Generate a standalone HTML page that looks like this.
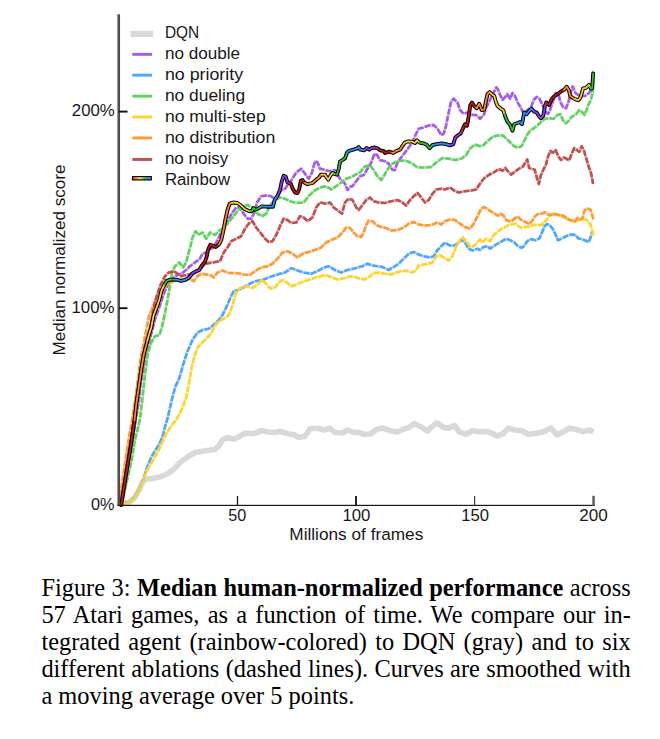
<!DOCTYPE html>
<html><head><meta charset="utf-8"><title>Figure 3</title>
<style>
html,body{margin:0;padding:0;background:#fff;}
body{width:660px;height:739px;position:relative;overflow:hidden;font-family:"Liberation Serif",serif;}
.cap{position:absolute;left:41.4px;top:574px;width:589.4px;font-family:"Liberation Serif",serif;font-size:24.4px;line-height:27px;color:#000;}
.cap .ln{text-align:justify;text-align-last:justify;white-space:nowrap;height:27px;}
.cap .ln.last{text-align:left;text-align-last:left;}
</style></head><body>
<svg width="660" height="560" viewBox="0 0 660 560" style="position:absolute;left:0;top:0">
<defs><linearGradient id="rb" gradientUnits="userSpaceOnUse" x1="132" y1="0" x2="153" y2="0">
<stop offset="0" stop-color="#e02020"/><stop offset="0.2" stop-color="#ff8c1a"/><stop offset="0.4" stop-color="#ffd42a"/><stop offset="0.6" stop-color="#30c030"/><stop offset="0.8" stop-color="#3090ff"/><stop offset="1" stop-color="#9040e0"/></linearGradient><filter id="bl" x="-2%" y="-2%" width="104%" height="104%"><feGaussianBlur stdDeviation="0.4"/></filter></defs>
<g filter="url(#bl)">
<path d="M121.8,503.8 L129.3,502.2 L134.5,498.0 L139.0,490.0 L143.0,481.5 L146.5,479.0 L152.5,478.5 L160.0,477.0 L167.5,473.7 L172.5,470.0 L175.0,468.0 L180.0,462.5 L187.5,457.0 L195.0,452.5 L205.0,450.7 L215.0,449.5 L218.7,446.2 L222.5,440.0 L227.5,437.5 L233.7,439.2 L240.0,436.2 L245.0,433.2 L252.5,433.7 L257.5,432.5 L261.2,430.5 L267.5,432.0 L275.0,432.5 L280.0,431.2 L287.5,433.7 L293.7,434.5 L298.7,437.5 L305.0,436.2 L310.0,428.7 L317.5,428.2 L323.7,430.0 L330.0,428.2 L335.0,432.5 L342.5,433.0 L347.5,430.0 L353.7,432.5 L358.7,432.5 L365.0,434.5 L371.2,433.7 L376.2,429.5 L382.5,428.0 L390.0,430.7 L397.5,432.0 L402.5,429.5 L408.7,427.5 L414.5,423.7 L421.2,427.0 L427.5,431.2 L430.3,428.1 L436.9,422.8 L443.6,427.4 L448.9,428.1 L454.7,425.5 L459.5,432.1 L466.1,434.2 L472.2,430.8 L479.4,431.6 L487.3,431.6 L492.6,433.5 L497.1,436.1 L503.2,433.5 L508.5,428.1 L515.2,430.0 L521.8,430.8 L528.4,434.2 L535.0,433.5 L543.0,432.1 L551.0,428.1 L557.0,434.8 L562.9,432.1 L569.5,428.1 L576.2,429.5 L582.8,431.6 L589.4,430.0 L593.4,432.1" fill="none" stroke="#d9d9d9" stroke-width="5.6" stroke-linejoin="round" stroke-linecap="butt"/>
<path d="M121.8,504.5 L132.5,440.0 L139.0,400.0 L140.5,385.0 L143.0,370.0 L146.0,355.0 L149.0,342.0 L152.0,331.0 L155.0,319.0 L159.0,308.0 L163.0,296.0 L166.0,288.0 L170.0,281.0 L175.0,276.2 L181.2,273.7 L186.2,270.0 L190.0,266.2 L195.0,262.5 L200.0,258.7 L202.5,253.7 L206.2,252.5 L210.0,249.0 L213.7,247.5 L217.5,240.0 L221.2,232.5 L225.0,226.2 L228.7,218.7 L232.5,212.5 L236.2,207.5 L240.0,207.5 L243.7,213.7 L247.5,218.7 L251.2,218.7 L254.5,212.5 L257.0,202.5 L261.2,196.2 L266.2,195.5 L271.2,196.2 L275.0,199.5 L278.0,196.2 L281.2,190.0 L285.0,188.7 L288.7,183.7 L292.5,178.7 L296.2,172.5 L301.2,168.7 L305.0,173.7 L308.7,178.7 L312.0,172.5 L315.0,161.2 L317.5,162.5 L320.0,168.7 L325.0,170.0 L330.0,171.2 L335.0,170.0 L340.0,178.7 L345.0,183.7 L347.5,190.0 L351.2,186.2 L352.5,186.2 L356.2,181.2 L360.0,176.2 L363.7,175.0 L367.5,168.7 L371.2,162.5 L374.5,153.7 L377.0,155.0 L380.0,160.0 L385.0,161.2 L388.7,163.7 L392.5,170.0 L395.0,170.0 L397.5,162.5 L401.2,157.5 L405.0,152.5 L408.7,147.5 L412.5,142.5 L415.5,135.0 L418.7,128.7 L423.7,127.5 L428.7,125.5 L433.7,125.0 L437.5,128.7 L441.2,135.0 L443.7,133.7 L446.2,125.0 L448.7,112.5 L451.2,101.2 L453.7,98.7 L457.5,102.5 L460.0,110.0 L463.7,113.7 L468.7,112.5 L472.5,115.0 L476.2,115.0 L480.0,118.7 L483.7,115.0 L486.2,107.5 L490.0,100.0 L493.0,93.7 L496.2,87.5 L498.0,89.5 L499.7,94.1 L502.6,99.8 L505.4,96.9 L507.3,94.1 L510.2,98.8 L512.4,93.1 L514.9,96.0 L517.7,102.6 L520.6,107.3 L523.4,113.0 L527.2,110.2 L531.0,107.3 L533.8,99.8 L536.7,96.9 L539.5,98.8 L542.3,104.5 L545.2,111.1 L548.0,114.0 L549.9,110.2 L552.8,101.7 L555.6,93.1 L558.4,94.1 L560.3,101.7 L563.2,107.3 L566.0,108.3 L568.9,100.7 L570.8,92.2 L572.7,86.5 L575.5,93.1 L578.3,95.0 L581.2,96.0 L585.0,96.0 L587.8,94.1 L590.6,91.2 L592.5,86.5" fill="none" stroke="#a55bea" stroke-opacity="0.42" stroke-width="2.4" stroke-linejoin="round"/>
<path d="M121.8,504.5 L132.5,440.0 L139.0,400.0 L140.5,385.0 L143.0,370.0 L146.0,355.0 L149.0,342.0 L152.0,331.0 L155.0,319.0 L159.0,308.0 L163.0,296.0 L166.0,288.0 L170.0,281.0 L175.0,276.2 L181.2,273.7 L186.2,270.0 L190.0,266.2 L195.0,262.5 L200.0,258.7 L202.5,253.7 L206.2,252.5 L210.0,249.0 L213.7,247.5 L217.5,240.0 L221.2,232.5 L225.0,226.2 L228.7,218.7 L232.5,212.5 L236.2,207.5 L240.0,207.5 L243.7,213.7 L247.5,218.7 L251.2,218.7 L254.5,212.5 L257.0,202.5 L261.2,196.2 L266.2,195.5 L271.2,196.2 L275.0,199.5 L278.0,196.2 L281.2,190.0 L285.0,188.7 L288.7,183.7 L292.5,178.7 L296.2,172.5 L301.2,168.7 L305.0,173.7 L308.7,178.7 L312.0,172.5 L315.0,161.2 L317.5,162.5 L320.0,168.7 L325.0,170.0 L330.0,171.2 L335.0,170.0 L340.0,178.7 L345.0,183.7 L347.5,190.0 L351.2,186.2 L352.5,186.2 L356.2,181.2 L360.0,176.2 L363.7,175.0 L367.5,168.7 L371.2,162.5 L374.5,153.7 L377.0,155.0 L380.0,160.0 L385.0,161.2 L388.7,163.7 L392.5,170.0 L395.0,170.0 L397.5,162.5 L401.2,157.5 L405.0,152.5 L408.7,147.5 L412.5,142.5 L415.5,135.0 L418.7,128.7 L423.7,127.5 L428.7,125.5 L433.7,125.0 L437.5,128.7 L441.2,135.0 L443.7,133.7 L446.2,125.0 L448.7,112.5 L451.2,101.2 L453.7,98.7 L457.5,102.5 L460.0,110.0 L463.7,113.7 L468.7,112.5 L472.5,115.0 L476.2,115.0 L480.0,118.7 L483.7,115.0 L486.2,107.5 L490.0,100.0 L493.0,93.7 L496.2,87.5 L498.0,89.5 L499.7,94.1 L502.6,99.8 L505.4,96.9 L507.3,94.1 L510.2,98.8 L512.4,93.1 L514.9,96.0 L517.7,102.6 L520.6,107.3 L523.4,113.0 L527.2,110.2 L531.0,107.3 L533.8,99.8 L536.7,96.9 L539.5,98.8 L542.3,104.5 L545.2,111.1 L548.0,114.0 L549.9,110.2 L552.8,101.7 L555.6,93.1 L558.4,94.1 L560.3,101.7 L563.2,107.3 L566.0,108.3 L568.9,100.7 L570.8,92.2 L572.7,86.5 L575.5,93.1 L578.3,95.0 L581.2,96.0 L585.0,96.0 L587.8,94.1 L590.6,91.2 L592.5,86.5" fill="none" stroke="#a55bea" stroke-width="2.65" stroke-dasharray="6 1.4" stroke-linejoin="round"/>
<path d="M121.8,503.6 L129.3,502.0 L134.5,497.5 L139.0,489.3 L143.5,478.9 L147.2,467.0 L150.9,458.0 L154.6,451.3 L159.1,444.6 L162.8,435.7 L165.8,423.8 L167.5,418.7 L171.2,402.5 L175.0,387.5 L179.5,377.5 L183.0,365.0 L187.5,351.2 L192.5,340.0 L197.5,332.5 L202.5,330.0 L208.7,328.7 L213.7,325.0 L218.7,320.0 L222.5,315.0 L226.2,307.5 L230.0,298.7 L233.7,291.2 L240.0,289.5 L247.5,285.0 L255.0,281.2 L262.5,280.0 L270.0,277.0 L277.5,274.5 L285.0,272.5 L291.2,268.2 L297.5,270.5 L303.7,272.5 L311.2,273.7 L317.5,271.2 L323.7,267.5 L328.7,266.2 L335.0,270.0 L341.2,272.5 L347.5,270.0 L350.0,269.5 L356.2,268.0 L362.5,266.2 L367.5,263.7 L372.5,265.5 L377.5,266.2 L382.5,267.0 L388.7,270.0 L393.7,267.0 L398.7,263.7 L403.7,258.7 L408.7,253.7 L413.7,252.0 L418.7,254.5 L423.7,256.2 L430.0,257.5 L433.7,256.2 L437.5,250.0 L441.2,246.2 L445.0,242.5 L448.7,245.0 L452.5,246.2 L457.5,243.7 L461.2,240.0 L465.0,242.5 L468.7,248.7 L472.5,250.5 L477.5,248.7 L480.0,250.0 L483.7,247.0 L487.5,246.2 L490.0,248.7 L493.7,246.2 L498.8,243.0 L502.6,240.8 L506.4,238.9 L510.2,240.2 L513.9,242.1 L517.7,245.9 L521.5,247.8 L524.4,245.9 L527.2,241.1 L531.0,239.2 L535.7,240.2 L539.5,238.3 L542.3,231.7 L544.6,226.0 L547.1,224.1 L549.9,225.6 L552.8,228.8 L555.6,234.5 L557.9,240.2 L560.3,239.2 L564.1,237.3 L567.9,235.5 L571.7,234.5 L575.5,235.1 L578.3,238.3 L582.1,239.2 L585.9,240.8 L588.8,242.1 L590.6,237.3 L592.5,230.7" fill="none" stroke="#4da6ff" stroke-opacity="0.42" stroke-width="2.4" stroke-linejoin="round"/>
<path d="M121.8,503.6 L129.3,502.0 L134.5,497.5 L139.0,489.3 L143.5,478.9 L147.2,467.0 L150.9,458.0 L154.6,451.3 L159.1,444.6 L162.8,435.7 L165.8,423.8 L167.5,418.7 L171.2,402.5 L175.0,387.5 L179.5,377.5 L183.0,365.0 L187.5,351.2 L192.5,340.0 L197.5,332.5 L202.5,330.0 L208.7,328.7 L213.7,325.0 L218.7,320.0 L222.5,315.0 L226.2,307.5 L230.0,298.7 L233.7,291.2 L240.0,289.5 L247.5,285.0 L255.0,281.2 L262.5,280.0 L270.0,277.0 L277.5,274.5 L285.0,272.5 L291.2,268.2 L297.5,270.5 L303.7,272.5 L311.2,273.7 L317.5,271.2 L323.7,267.5 L328.7,266.2 L335.0,270.0 L341.2,272.5 L347.5,270.0 L350.0,269.5 L356.2,268.0 L362.5,266.2 L367.5,263.7 L372.5,265.5 L377.5,266.2 L382.5,267.0 L388.7,270.0 L393.7,267.0 L398.7,263.7 L403.7,258.7 L408.7,253.7 L413.7,252.0 L418.7,254.5 L423.7,256.2 L430.0,257.5 L433.7,256.2 L437.5,250.0 L441.2,246.2 L445.0,242.5 L448.7,245.0 L452.5,246.2 L457.5,243.7 L461.2,240.0 L465.0,242.5 L468.7,248.7 L472.5,250.5 L477.5,248.7 L480.0,250.0 L483.7,247.0 L487.5,246.2 L490.0,248.7 L493.7,246.2 L498.8,243.0 L502.6,240.8 L506.4,238.9 L510.2,240.2 L513.9,242.1 L517.7,245.9 L521.5,247.8 L524.4,245.9 L527.2,241.1 L531.0,239.2 L535.7,240.2 L539.5,238.3 L542.3,231.7 L544.6,226.0 L547.1,224.1 L549.9,225.6 L552.8,228.8 L555.6,234.5 L557.9,240.2 L560.3,239.2 L564.1,237.3 L567.9,235.5 L571.7,234.5 L575.5,235.1 L578.3,238.3 L582.1,239.2 L585.9,240.8 L588.8,242.1 L590.6,237.3 L592.5,230.7" fill="none" stroke="#4da6ff" stroke-width="2.65" stroke-dasharray="6 1.4" stroke-linejoin="round"/>
<path d="M121.6,504.5 L131.9,459.0 L134.8,440.0 L137.5,429.8 L140.0,418.7 L142.5,397.5 L145.0,375.0 L147.5,355.0 L151.2,342.5 L155.0,336.2 L159.5,335.0 L162.5,325.0 L165.0,312.5 L167.5,300.0 L170.0,285.0 L172.0,272.5 L175.0,266.2 L179.5,262.5 L183.0,267.5 L186.2,262.5 L188.7,252.5 L190.5,246.0 L192.5,237.5 L195.5,231.2 L198.7,235.0 L202.5,232.5 L206.2,238.7 L210.0,232.5 L215.0,235.0 L218.7,231.2 L222.5,228.7 L227.5,223.7 L232.5,217.5 L237.5,211.2 L242.5,206.2 L247.5,205.0 L252.5,207.5 L257.5,213.7 L262.5,216.2 L266.2,213.7 L270.0,205.0 L275.0,200.0 L280.0,197.5 L285.0,198.7 L290.0,201.2 L296.2,203.0 L303.7,202.5 L308.7,196.2 L313.7,191.2 L320.0,187.5 L326.2,186.2 L331.2,189.5 L336.2,186.2 L341.2,182.5 L346.2,178.7 L350.0,177.5 L355.0,175.0 L360.0,172.5 L365.0,166.2 L370.0,165.5 L373.7,170.0 L377.5,176.2 L381.2,180.0 L384.5,175.0 L388.0,168.7 L392.5,163.7 L397.5,161.2 L402.5,160.5 L407.5,161.2 L412.5,163.7 L417.5,167.5 L423.7,167.5 L431.2,167.0 L436.2,162.5 L442.5,158.0 L448.7,158.7 L455.0,160.0 L461.2,158.7 L466.2,155.0 L470.0,148.7 L475.0,144.5 L480.0,146.2 L483.7,145.0 L487.5,141.2 L492.5,137.0 L497.5,135.5 L502.6,135.4 L506.4,138.6 L510.2,142.4 L513.9,146.2 L517.7,147.5 L521.5,146.2 L524.4,140.5 L527.2,134.8 L530.0,131.0 L533.8,128.2 L537.6,125.3 L541.4,121.6 L545.2,118.7 L549.0,118.3 L553.7,118.7 L557.5,114.9 L560.3,114.0 L563.2,120.6 L566.0,123.4 L568.9,120.6 L571.7,116.8 L575.5,114.9 L579.3,110.2 L582.1,112.1 L584.4,114.9 L586.9,109.2 L588.8,103.6 L590.6,100.7 L592.0,95.0 L593.1,90.3" fill="none" stroke="#5fd35f" stroke-opacity="0.42" stroke-width="2.4" stroke-linejoin="round"/>
<path d="M121.6,504.5 L131.9,459.0 L134.8,440.0 L137.5,429.8 L140.0,418.7 L142.5,397.5 L145.0,375.0 L147.5,355.0 L151.2,342.5 L155.0,336.2 L159.5,335.0 L162.5,325.0 L165.0,312.5 L167.5,300.0 L170.0,285.0 L172.0,272.5 L175.0,266.2 L179.5,262.5 L183.0,267.5 L186.2,262.5 L188.7,252.5 L190.5,246.0 L192.5,237.5 L195.5,231.2 L198.7,235.0 L202.5,232.5 L206.2,238.7 L210.0,232.5 L215.0,235.0 L218.7,231.2 L222.5,228.7 L227.5,223.7 L232.5,217.5 L237.5,211.2 L242.5,206.2 L247.5,205.0 L252.5,207.5 L257.5,213.7 L262.5,216.2 L266.2,213.7 L270.0,205.0 L275.0,200.0 L280.0,197.5 L285.0,198.7 L290.0,201.2 L296.2,203.0 L303.7,202.5 L308.7,196.2 L313.7,191.2 L320.0,187.5 L326.2,186.2 L331.2,189.5 L336.2,186.2 L341.2,182.5 L346.2,178.7 L350.0,177.5 L355.0,175.0 L360.0,172.5 L365.0,166.2 L370.0,165.5 L373.7,170.0 L377.5,176.2 L381.2,180.0 L384.5,175.0 L388.0,168.7 L392.5,163.7 L397.5,161.2 L402.5,160.5 L407.5,161.2 L412.5,163.7 L417.5,167.5 L423.7,167.5 L431.2,167.0 L436.2,162.5 L442.5,158.0 L448.7,158.7 L455.0,160.0 L461.2,158.7 L466.2,155.0 L470.0,148.7 L475.0,144.5 L480.0,146.2 L483.7,145.0 L487.5,141.2 L492.5,137.0 L497.5,135.5 L502.6,135.4 L506.4,138.6 L510.2,142.4 L513.9,146.2 L517.7,147.5 L521.5,146.2 L524.4,140.5 L527.2,134.8 L530.0,131.0 L533.8,128.2 L537.6,125.3 L541.4,121.6 L545.2,118.7 L549.0,118.3 L553.7,118.7 L557.5,114.9 L560.3,114.0 L563.2,120.6 L566.0,123.4 L568.9,120.6 L571.7,116.8 L575.5,114.9 L579.3,110.2 L582.1,112.1 L584.4,114.9 L586.9,109.2 L588.8,103.6 L590.6,100.7 L592.0,95.0 L593.1,90.3" fill="none" stroke="#5fd35f" stroke-width="2.65" stroke-dasharray="6 1.4" stroke-linejoin="round"/>
<path d="M121.8,503.8 L129.3,502.2 L134.5,498.0 L139.0,490.0 L143.5,480.0 L147.2,470.0 L151.7,462.5 L156.1,455.0 L161.3,444.6 L165.0,435.7 L169.5,428.3 L175.5,420.8 L179.9,413.4 L182.5,407.5 L186.2,397.5 L188.7,385.0 L191.2,370.0 L194.5,356.2 L197.5,347.5 L202.5,342.5 L207.5,337.5 L211.2,333.7 L213.7,327.5 L218.7,321.2 L223.7,318.7 L228.7,315.0 L232.5,305.0 L236.2,292.5 L240.0,288.0 L246.2,286.2 L252.5,288.0 L257.5,284.5 L262.0,280.0 L266.2,283.7 L270.5,288.7 L275.0,287.5 L278.7,282.5 L282.5,280.0 L286.2,282.0 L291.2,286.2 L296.2,284.5 L302.5,282.0 L310.0,279.5 L317.5,277.0 L325.0,275.0 L331.2,277.0 L337.5,279.5 L345.0,278.0 L350.0,276.2 L355.0,277.0 L360.0,278.7 L365.0,279.5 L370.0,276.2 L373.7,273.0 L378.7,272.5 L385.0,273.7 L391.2,274.5 L396.2,272.5 L401.2,271.2 L406.2,270.7 L411.2,272.5 L415.0,271.2 L418.7,265.5 L423.7,264.5 L428.7,263.7 L432.5,262.5 L436.2,256.2 L440.0,255.0 L443.7,257.5 L448.7,260.5 L452.5,256.2 L456.2,246.2 L460.0,240.0 L463.0,237.5 L466.2,241.2 L470.0,246.2 L473.7,246.2 L477.5,242.5 L480.0,239.5 L482.5,242.5 L486.2,238.7 L490.0,241.2 L493.7,235.0 L497.8,231.7 L500.7,229.4 L504.5,227.5 L508.3,225.0 L512.0,224.1 L515.8,223.7 L518.7,226.4 L521.5,227.9 L525.3,226.9 L529.1,226.9 L532.9,225.0 L536.7,224.7 L541.4,225.0 L544.2,222.2 L547.1,219.4 L549.9,215.6 L553.7,213.1 L556.6,214.6 L560.3,215.6 L564.1,217.5 L567.9,219.4 L571.7,220.7 L575.5,221.2 L579.3,219.9 L583.1,219.4 L585.9,219.4 L588.8,222.2 L590.6,225.0 L592.0,229.8 L593.5,236.4" fill="none" stroke="#ffd42a" stroke-opacity="0.42" stroke-width="2.4" stroke-linejoin="round"/>
<path d="M121.8,503.8 L129.3,502.2 L134.5,498.0 L139.0,490.0 L143.5,480.0 L147.2,470.0 L151.7,462.5 L156.1,455.0 L161.3,444.6 L165.0,435.7 L169.5,428.3 L175.5,420.8 L179.9,413.4 L182.5,407.5 L186.2,397.5 L188.7,385.0 L191.2,370.0 L194.5,356.2 L197.5,347.5 L202.5,342.5 L207.5,337.5 L211.2,333.7 L213.7,327.5 L218.7,321.2 L223.7,318.7 L228.7,315.0 L232.5,305.0 L236.2,292.5 L240.0,288.0 L246.2,286.2 L252.5,288.0 L257.5,284.5 L262.0,280.0 L266.2,283.7 L270.5,288.7 L275.0,287.5 L278.7,282.5 L282.5,280.0 L286.2,282.0 L291.2,286.2 L296.2,284.5 L302.5,282.0 L310.0,279.5 L317.5,277.0 L325.0,275.0 L331.2,277.0 L337.5,279.5 L345.0,278.0 L350.0,276.2 L355.0,277.0 L360.0,278.7 L365.0,279.5 L370.0,276.2 L373.7,273.0 L378.7,272.5 L385.0,273.7 L391.2,274.5 L396.2,272.5 L401.2,271.2 L406.2,270.7 L411.2,272.5 L415.0,271.2 L418.7,265.5 L423.7,264.5 L428.7,263.7 L432.5,262.5 L436.2,256.2 L440.0,255.0 L443.7,257.5 L448.7,260.5 L452.5,256.2 L456.2,246.2 L460.0,240.0 L463.0,237.5 L466.2,241.2 L470.0,246.2 L473.7,246.2 L477.5,242.5 L480.0,239.5 L482.5,242.5 L486.2,238.7 L490.0,241.2 L493.7,235.0 L497.8,231.7 L500.7,229.4 L504.5,227.5 L508.3,225.0 L512.0,224.1 L515.8,223.7 L518.7,226.4 L521.5,227.9 L525.3,226.9 L529.1,226.9 L532.9,225.0 L536.7,224.7 L541.4,225.0 L544.2,222.2 L547.1,219.4 L549.9,215.6 L553.7,213.1 L556.6,214.6 L560.3,215.6 L564.1,217.5 L567.9,219.4 L571.7,220.7 L575.5,221.2 L579.3,219.9 L583.1,219.4 L585.9,219.4 L588.8,222.2 L590.6,225.0 L592.0,229.8 L593.5,236.4" fill="none" stroke="#ffd42a" stroke-width="2.65" stroke-dasharray="6 1.4" stroke-linejoin="round"/>
<path d="M119.8,503.0 L121.5,487.4 L124.3,468.4 L128.6,440.0 L132.3,418.7 L135.3,400.0 L140.5,360.0 L148.7,317.5 L152.0,308.7 L156.0,299.0 L161.0,291.0 L167.5,283.7 L172.5,281.2 L180.0,280.0 L190.0,279.0 L193.7,281.2 L197.5,276.2 L201.2,273.7 L206.2,274.5 L211.2,275.5 L213.7,277.5 L217.5,272.5 L222.5,270.5 L228.7,273.0 L236.2,273.0 L243.7,274.5 L250.0,275.0 L255.0,271.2 L261.2,267.5 L267.5,266.2 L272.5,263.7 L277.5,258.7 L282.5,252.5 L287.5,251.2 L292.5,253.7 L297.5,257.5 L302.5,253.7 L308.7,252.0 L315.0,250.0 L321.2,247.5 L326.2,242.5 L331.2,240.0 L337.5,237.5 L342.5,232.5 L346.2,227.5 L350.0,228.0 L353.7,232.5 L357.5,236.2 L361.2,237.0 L363.7,232.5 L366.2,225.0 L368.7,220.7 L372.5,221.2 L376.2,225.0 L381.2,227.0 L386.2,228.0 L391.2,230.5 L397.5,230.0 L403.7,227.5 L408.7,223.7 L413.7,222.0 L418.7,224.5 L425.0,225.5 L431.2,225.0 L437.5,222.5 L441.2,224.5 L445.0,221.2 L450.0,219.5 L455.0,220.0 L460.0,223.7 L465.0,227.0 L470.0,228.7 L473.7,223.7 L477.5,216.2 L481.2,208.7 L484.5,207.0 L488.7,210.0 L493.7,213.0 L497.8,215.6 L500.7,213.7 L503.5,215.6 L506.4,220.3 L509.2,221.2 L512.0,220.7 L514.9,218.4 L517.7,216.5 L520.6,219.4 L523.4,221.2 L526.2,222.2 L529.1,224.1 L531.9,221.2 L534.8,216.5 L537.6,214.2 L541.4,213.7 L545.2,212.3 L548.0,214.6 L551.8,215.0 L555.6,214.2 L559.4,215.0 L563.2,215.6 L567.0,218.4 L570.8,220.3 L574.5,221.8 L577.4,218.0 L580.2,219.4 L582.5,218.4 L584.0,211.8 L585.9,208.9 L588.8,208.9 L590.6,209.9 L592.0,214.6 L593.5,219.4" fill="none" stroke="#ff9933" stroke-opacity="0.42" stroke-width="2.4" stroke-linejoin="round"/>
<path d="M119.8,503.0 L121.5,487.4 L124.3,468.4 L128.6,440.0 L132.3,418.7 L135.3,400.0 L140.5,360.0 L148.7,317.5 L152.0,308.7 L156.0,299.0 L161.0,291.0 L167.5,283.7 L172.5,281.2 L180.0,280.0 L190.0,279.0 L193.7,281.2 L197.5,276.2 L201.2,273.7 L206.2,274.5 L211.2,275.5 L213.7,277.5 L217.5,272.5 L222.5,270.5 L228.7,273.0 L236.2,273.0 L243.7,274.5 L250.0,275.0 L255.0,271.2 L261.2,267.5 L267.5,266.2 L272.5,263.7 L277.5,258.7 L282.5,252.5 L287.5,251.2 L292.5,253.7 L297.5,257.5 L302.5,253.7 L308.7,252.0 L315.0,250.0 L321.2,247.5 L326.2,242.5 L331.2,240.0 L337.5,237.5 L342.5,232.5 L346.2,227.5 L350.0,228.0 L353.7,232.5 L357.5,236.2 L361.2,237.0 L363.7,232.5 L366.2,225.0 L368.7,220.7 L372.5,221.2 L376.2,225.0 L381.2,227.0 L386.2,228.0 L391.2,230.5 L397.5,230.0 L403.7,227.5 L408.7,223.7 L413.7,222.0 L418.7,224.5 L425.0,225.5 L431.2,225.0 L437.5,222.5 L441.2,224.5 L445.0,221.2 L450.0,219.5 L455.0,220.0 L460.0,223.7 L465.0,227.0 L470.0,228.7 L473.7,223.7 L477.5,216.2 L481.2,208.7 L484.5,207.0 L488.7,210.0 L493.7,213.0 L497.8,215.6 L500.7,213.7 L503.5,215.6 L506.4,220.3 L509.2,221.2 L512.0,220.7 L514.9,218.4 L517.7,216.5 L520.6,219.4 L523.4,221.2 L526.2,222.2 L529.1,224.1 L531.9,221.2 L534.8,216.5 L537.6,214.2 L541.4,213.7 L545.2,212.3 L548.0,214.6 L551.8,215.0 L555.6,214.2 L559.4,215.0 L563.2,215.6 L567.0,218.4 L570.8,220.3 L574.5,221.8 L577.4,218.0 L580.2,219.4 L582.5,218.4 L584.0,211.8 L585.9,208.9 L588.8,208.9 L590.6,209.9 L592.0,214.6 L593.5,219.4" fill="none" stroke="#ff9933" stroke-width="2.65" stroke-dasharray="6 1.4" stroke-linejoin="round"/>
<path d="M120.6,504.5 L134.0,418.7 L135.5,405.0 L138.0,387.5 L140.5,370.0 L143.0,355.0 L146.5,340.0 L150.0,327.5 L152.5,315.0 L156.2,297.5 L160.0,286.2 L165.0,276.2 L168.7,272.5 L173.7,271.2 L177.5,273.7 L181.2,276.2 L186.2,275.0 L192.5,273.7 L198.7,271.0 L205.0,263.7 L212.5,262.5 L220.0,261.2 L223.7,252.5 L227.5,247.5 L231.2,241.2 L236.2,238.7 L241.2,236.2 L245.0,228.7 L248.7,223.7 L252.5,221.2 L256.2,227.5 L261.2,233.7 L265.0,238.7 L268.7,242.0 L272.5,241.2 L276.2,235.0 L280.0,226.2 L283.7,218.7 L287.5,220.0 L291.2,223.0 L296.2,222.5 L300.0,216.2 L303.7,217.5 L307.5,221.2 L312.5,217.5 L316.2,207.5 L320.0,202.5 L326.2,203.7 L330.0,202.5 L333.7,207.5 L338.7,211.2 L342.0,213.7 L345.0,202.5 L348.7,198.7 L352.5,200.0 L356.2,207.5 L358.7,210.0 L362.5,205.0 L366.2,200.0 L370.0,197.5 L373.7,201.2 L378.7,202.5 L385.0,203.0 L391.2,201.2 L397.5,200.0 L402.5,202.5 L406.2,205.7 L410.0,200.0 L413.7,196.2 L417.5,193.0 L421.2,197.5 L425.0,202.5 L428.7,200.0 L432.5,193.7 L436.2,189.5 L441.2,188.7 L445.0,189.5 L450.0,187.5 L455.0,191.2 L458.7,192.5 L465.0,191.2 L471.2,190.5 L476.2,189.5 L480.0,183.7 L483.7,178.7 L488.7,175.0 L493.7,172.5 L498.8,168.9 L502.6,170.8 L505.4,168.0 L508.3,171.7 L511.1,174.6 L514.9,171.7 L518.7,168.9 L522.5,167.0 L524.9,163.2 L527.2,159.4 L529.1,168.0 L531.9,168.9 L534.8,169.8 L536.7,177.4 L538.9,184.0 L540.8,175.5 L543.3,169.8 L545.8,165.1 L548.0,156.6 L550.3,150.9 L552.8,152.8 L555.6,150.0 L558.4,156.6 L560.9,160.0 L563.6,157.5 L566.0,158.5 L569.2,160.4 L571.7,153.7 L574.2,148.1 L576.8,150.0 L579.3,151.8 L581.7,146.2 L584.0,150.9 L586.3,158.5 L588.8,167.0 L591.2,173.6 L593.1,184.0" fill="none" stroke="#c45050" stroke-opacity="0.42" stroke-width="2.4" stroke-linejoin="round"/>
<path d="M120.6,504.5 L134.0,418.7 L135.5,405.0 L138.0,387.5 L140.5,370.0 L143.0,355.0 L146.5,340.0 L150.0,327.5 L152.5,315.0 L156.2,297.5 L160.0,286.2 L165.0,276.2 L168.7,272.5 L173.7,271.2 L177.5,273.7 L181.2,276.2 L186.2,275.0 L192.5,273.7 L198.7,271.0 L205.0,263.7 L212.5,262.5 L220.0,261.2 L223.7,252.5 L227.5,247.5 L231.2,241.2 L236.2,238.7 L241.2,236.2 L245.0,228.7 L248.7,223.7 L252.5,221.2 L256.2,227.5 L261.2,233.7 L265.0,238.7 L268.7,242.0 L272.5,241.2 L276.2,235.0 L280.0,226.2 L283.7,218.7 L287.5,220.0 L291.2,223.0 L296.2,222.5 L300.0,216.2 L303.7,217.5 L307.5,221.2 L312.5,217.5 L316.2,207.5 L320.0,202.5 L326.2,203.7 L330.0,202.5 L333.7,207.5 L338.7,211.2 L342.0,213.7 L345.0,202.5 L348.7,198.7 L352.5,200.0 L356.2,207.5 L358.7,210.0 L362.5,205.0 L366.2,200.0 L370.0,197.5 L373.7,201.2 L378.7,202.5 L385.0,203.0 L391.2,201.2 L397.5,200.0 L402.5,202.5 L406.2,205.7 L410.0,200.0 L413.7,196.2 L417.5,193.0 L421.2,197.5 L425.0,202.5 L428.7,200.0 L432.5,193.7 L436.2,189.5 L441.2,188.7 L445.0,189.5 L450.0,187.5 L455.0,191.2 L458.7,192.5 L465.0,191.2 L471.2,190.5 L476.2,189.5 L480.0,183.7 L483.7,178.7 L488.7,175.0 L493.7,172.5 L498.8,168.9 L502.6,170.8 L505.4,168.0 L508.3,171.7 L511.1,174.6 L514.9,171.7 L518.7,168.9 L522.5,167.0 L524.9,163.2 L527.2,159.4 L529.1,168.0 L531.9,168.9 L534.8,169.8 L536.7,177.4 L538.9,184.0 L540.8,175.5 L543.3,169.8 L545.8,165.1 L548.0,156.6 L550.3,150.9 L552.8,152.8 L555.6,150.0 L558.4,156.6 L560.9,160.0 L563.6,157.5 L566.0,158.5 L569.2,160.4 L571.7,153.7 L574.2,148.1 L576.8,150.0 L579.3,151.8 L581.7,146.2 L584.0,150.9 L586.3,158.5 L588.8,167.0 L591.2,173.6 L593.1,184.0" fill="none" stroke="#c45050" stroke-width="2.65" stroke-dasharray="6 1.4" stroke-linejoin="round"/>
</g>
<path d="M121.2,505.0 L131.7,440.0 L134.7,418.7 L136.2,405.0 L138.7,387.5 L141.2,370.0 L143.7,355.0 L147.5,340.0 L151.2,327.5 L153.7,315.0 L157.5,305.0 L159.2,300.0 L161.7,290.0 L164.2,285.0 L166.7,280.8 L170.0,279.7 L176.7,279.7 L180.8,280.8 L185.0,280.0 L189.2,277.5 L192.5,273.3 L195.8,271.3 L199.2,270.0 L201.7,265.8 L205.0,261.7 L206.7,256.7 L208.0,250.0 L210.3,244.7 L213.3,245.8 L215.8,247.0 L219.2,244.2 L221.3,240.0 L223.3,230.8 L225.3,220.0 L227.5,210.0 L229.7,203.7 L233.3,202.5 L237.5,203.0 L240.8,205.3 L244.2,208.7 L248.3,210.8 L251.7,211.3 L253.3,208.0 L255.0,209.7 L257.5,209.0 L261.7,206.3 L266.7,206.7 L273.0,206.7 L274.7,200.0 L277.5,195.8 L280.0,190.0 L281.7,181.7 L283.7,175.8 L285.8,176.7 L287.5,182.5 L290.8,183.7 L292.5,188.3 L295.0,192.5 L297.5,193.0 L299.2,189.2 L300.8,180.8 L302.5,180.0 L304.2,182.5 L307.5,184.2 L312.5,183.0 L316.7,179.2 L319.2,177.5 L320.8,174.7 L325.0,174.7 L326.7,177.5 L328.3,179.7 L330.3,175.8 L332.5,173.0 L335.0,174.2 L337.0,174.7 L338.7,169.2 L340.0,161.7 L342.5,160.0 L345.0,158.3 L347.0,152.5 L349.2,150.8 L353.3,149.7 L356.7,148.7 L358.7,147.0 L360.3,149.7 L364.2,150.3 L366.7,148.0 L369.2,149.7 L371.7,148.0 L375.0,147.5 L377.5,148.3 L380.0,150.3 L383.3,150.8 L385.0,153.0 L389.2,151.7 L393.3,153.0 L396.7,150.8 L400.0,149.7 L402.5,145.8 L405.0,142.5 L408.3,141.3 L412.5,141.7 L415.0,143.0 L417.0,140.3 L419.2,142.5 L423.3,143.3 L426.7,144.7 L429.7,148.3 L432.5,145.0 L436.7,144.2 L441.7,143.3 L445.8,144.2 L450.0,145.3 L453.3,144.2 L455.3,137.5 L458.3,135.0 L460.8,133.3 L463.0,128.3 L465.0,124.2 L467.0,125.8 L468.7,116.7 L470.3,105.0 L472.0,102.5 L474.2,105.8 L476.7,108.3 L479.2,103.7 L481.7,110.0 L484.2,109.7 L485.8,101.7 L487.5,94.2 L489.7,92.0 L492.5,95.0 L494.2,95.8 L495.8,101.7 L497.5,105.8 L500.8,108.7 L503.3,110.3 L505.3,116.7 L507.5,121.7 L510.0,124.7 L512.5,130.8 L514.2,124.2 L517.5,123.0 L520.0,122.0 L522.0,124.2 L524.2,112.5 L526.7,114.2 L529.2,110.8 L531.7,108.7 L534.2,111.7 L536.7,112.5 L538.7,115.8 L540.8,118.3 L543.3,115.8 L545.0,105.8 L546.3,102.5 L549.2,105.0 L551.7,99.2 L554.2,96.3 L557.5,94.2 L560.8,91.7 L564.2,89.7 L566.7,86.7 L568.3,89.2 L568.9,90.3 L570.2,96.0 L572.7,97.9 L575.5,99.4 L578.3,100.2 L580.2,97.9 L582.1,92.2 L583.0,88.4 L585.5,88.0 L587.4,86.5 L589.0,84.8 L590.8,88.6 L592.2,88.4 L592.8,79.0 L593.1,73.3" fill="none" stroke="#000" stroke-width="3.85" stroke-linejoin="round" stroke-linecap="round"/>
<path d="M121.2,505.0 L121.2,505.0 L131.7,440.0 L134.5,420.1" fill="none" stroke="#c0171c" stroke-width="1.8" stroke-linejoin="round" stroke-linecap="round"/>
<path d="M134.5,420.1 L134.7,418.7 L136.2,405.0 L138.7,387.5 L141.2,370.0 L143.7,355.0 L147.5,340.0" fill="none" stroke="#ff8a17" stroke-width="1.8" stroke-linejoin="round" stroke-linecap="round"/>
<path d="M147.5,340.0 L151.2,327.5 L153.7,315.0 L157.5,305.0 L159.2,300.0 L161.7,290.0 L164.2,285.0 L164.5,284.5" fill="none" stroke="#ffd21f" stroke-width="1.8" stroke-linejoin="round" stroke-linecap="round"/>
<path d="M164.5,284.5 L166.7,280.8 L170.0,279.7 L176.0,279.7" fill="none" stroke="#2fbf2f" stroke-width="1.8" stroke-linejoin="round" stroke-linecap="round"/>
<path d="M176.0,279.7 L176.7,279.7 L180.8,280.8 L185.0,280.0 L189.2,277.5 L190.0,276.5" fill="none" stroke="#2b8cff" stroke-width="1.8" stroke-linejoin="round" stroke-linecap="round"/>
<path d="M190.0,276.5 L192.5,273.3 L195.8,271.3 L199.2,270.0 L201.0,267.0" fill="none" stroke="#8a3be0" stroke-width="1.8" stroke-linejoin="round" stroke-linecap="round"/>
<path d="M201.0,267.0 L201.7,265.8 L205.0,261.7 L206.7,256.7 L208.0,250.0 L210.3,244.7 L213.3,245.8 L215.8,247.0 L219.0,244.4" fill="none" stroke="#c0171c" stroke-width="1.8" stroke-linejoin="round" stroke-linecap="round"/>
<path d="M219.0,244.4 L219.2,244.2 L221.3,240.0 L223.3,230.8 L225.3,220.0 L227.5,210.0 L229.7,203.7 L232.0,202.9" fill="none" stroke="#ff8a17" stroke-width="1.8" stroke-linejoin="round" stroke-linecap="round"/>
<path d="M232.0,202.9 L233.3,202.5 L237.5,203.0 L240.8,205.3 L244.2,208.7 L248.3,210.8 L250.0,211.1" fill="none" stroke="#ffd21f" stroke-width="1.8" stroke-linejoin="round" stroke-linecap="round"/>
<path d="M250.0,211.1 L251.7,211.3 L253.3,208.0 L255.0,209.7 L257.5,209.0 L261.7,206.3 L262.0,206.3" fill="none" stroke="#2fbf2f" stroke-width="1.8" stroke-linejoin="round" stroke-linecap="round"/>
<path d="M262.0,206.3 L266.7,206.7 L273.0,206.7 L274.7,200.0 L277.0,196.6" fill="none" stroke="#2b8cff" stroke-width="1.8" stroke-linejoin="round" stroke-linecap="round"/>
<path d="M277.0,196.6 L277.5,195.8 L280.0,190.0 L281.7,181.7 L283.7,175.8 L285.8,176.7 L287.5,182.5 L290.0,183.4" fill="none" stroke="#8a3be0" stroke-width="1.8" stroke-linejoin="round" stroke-linecap="round"/>
<path d="M290.0,183.4 L290.8,183.7 L292.5,188.3 L295.0,192.5 L297.5,193.0 L299.2,189.2 L300.8,180.8 L302.5,180.0 L304.2,182.5 L305.0,182.9" fill="none" stroke="#c0171c" stroke-width="1.8" stroke-linejoin="round" stroke-linecap="round"/>
<path d="M305.0,182.9 L307.5,184.2 L312.5,183.0 L316.7,179.2 L319.2,177.5 L320.8,174.7 L322.0,174.7" fill="none" stroke="#ff8a17" stroke-width="1.8" stroke-linejoin="round" stroke-linecap="round"/>
<path d="M322.0,174.7 L325.0,174.7 L326.7,177.5 L328.3,179.7 L330.3,175.8 L332.5,173.0 L334.0,173.7" fill="none" stroke="#ffd21f" stroke-width="1.8" stroke-linejoin="round" stroke-linecap="round"/>
<path d="M334.0,173.7 L335.0,174.2 L337.0,174.7 L338.7,169.2 L340.0,161.7 L342.5,160.0 L345.0,158.3 L347.0,152.5" fill="none" stroke="#2fbf2f" stroke-width="1.8" stroke-linejoin="round" stroke-linecap="round"/>
<path d="M347.0,152.5 L349.2,150.8 L353.3,149.7 L356.7,148.7 L358.7,147.0 L360.3,149.7 L364.2,150.3 L365.0,149.6" fill="none" stroke="#2b8cff" stroke-width="1.8" stroke-linejoin="round" stroke-linecap="round"/>
<path d="M365.0,149.6 L366.7,148.0 L369.2,149.7 L371.7,148.0 L375.0,147.5 L377.5,148.3 L378.0,148.7" fill="none" stroke="#8a3be0" stroke-width="1.8" stroke-linejoin="round" stroke-linecap="round"/>
<path d="M378.0,148.7 L380.0,150.3 L383.3,150.8 L385.0,153.0 L389.2,151.7 L392.0,152.6" fill="none" stroke="#c0171c" stroke-width="1.8" stroke-linejoin="round" stroke-linecap="round"/>
<path d="M392.0,152.6 L393.3,153.0 L396.7,150.8 L400.0,149.7 L402.5,145.8 L404.0,143.8" fill="none" stroke="#ff8a17" stroke-width="1.8" stroke-linejoin="round" stroke-linecap="round"/>
<path d="M404.0,143.8 L405.0,142.5 L408.3,141.3 L412.5,141.7 L415.0,143.0 L417.0,140.3 L419.0,142.3" fill="none" stroke="#ffd21f" stroke-width="1.8" stroke-linejoin="round" stroke-linecap="round"/>
<path d="M419.0,142.3 L419.2,142.5 L423.3,143.3 L426.7,144.7 L429.7,148.3 L432.5,145.0 L433.0,144.9" fill="none" stroke="#2fbf2f" stroke-width="1.8" stroke-linejoin="round" stroke-linecap="round"/>
<path d="M433.0,144.9 L436.7,144.2 L441.7,143.3 L445.8,144.2 L450.0,145.3" fill="none" stroke="#2b8cff" stroke-width="1.8" stroke-linejoin="round" stroke-linecap="round"/>
<path d="M450.0,145.3 L453.3,144.2 L455.3,137.5 L458.3,135.0 L460.8,133.3 L462.0,130.6" fill="none" stroke="#8a3be0" stroke-width="1.8" stroke-linejoin="round" stroke-linecap="round"/>
<path d="M462.0,130.6 L463.0,128.3 L465.0,124.2 L467.0,125.8 L468.7,116.7 L470.3,105.0 L472.0,102.5 L474.2,105.8 L476.0,107.6" fill="none" stroke="#c0171c" stroke-width="1.8" stroke-linejoin="round" stroke-linecap="round"/>
<path d="M476.0,107.6 L476.7,108.3 L479.2,103.7 L481.7,110.0 L484.2,109.7 L485.8,101.7 L487.5,94.2 L489.7,92.0 L491.0,93.4" fill="none" stroke="#ff8a17" stroke-width="1.8" stroke-linejoin="round" stroke-linecap="round"/>
<path d="M491.0,93.4 L492.5,95.0 L494.2,95.8 L495.8,101.7 L497.5,105.8 L500.8,108.7 L503.3,110.3 L504.5,114.1" fill="none" stroke="#ffd21f" stroke-width="1.8" stroke-linejoin="round" stroke-linecap="round"/>
<path d="M504.5,114.1 L505.3,116.7 L507.5,121.7 L510.0,124.7 L512.5,130.8 L514.2,124.2 L517.5,123.0 L518.0,122.8" fill="none" stroke="#2fbf2f" stroke-width="1.8" stroke-linejoin="round" stroke-linecap="round"/>
<path d="M518.0,122.8 L520.0,122.0 L522.0,124.2 L524.2,112.5 L526.7,114.2 L529.2,110.8 L531.7,108.7 L534.0,111.5" fill="none" stroke="#2b8cff" stroke-width="1.8" stroke-linejoin="round" stroke-linecap="round"/>
<path d="M534.0,111.5 L534.2,111.7 L536.7,112.5 L538.7,115.8 L540.8,118.3 L543.3,115.8 L545.0,105.8 L546.0,103.3" fill="none" stroke="#8a3be0" stroke-width="1.8" stroke-linejoin="round" stroke-linecap="round"/>
<path d="M546.0,103.3 L546.3,102.5 L549.2,105.0 L551.7,99.2 L554.2,96.3 L557.5,94.2 L560.8,91.7 L564.0,89.8" fill="none" stroke="#c0171c" stroke-width="1.8" stroke-linejoin="round" stroke-linecap="round"/>
<path d="M564.0,89.8 L564.2,89.7 L566.7,86.7 L568.3,89.2 L568.9,90.3 L570.2,96.0 L572.7,97.9 L575.0,99.1" fill="none" stroke="#ff8a17" stroke-width="1.8" stroke-linejoin="round" stroke-linecap="round"/>
<path d="M575.0,99.1 L575.5,99.4 L578.3,100.2 L580.2,97.9 L582.1,92.2 L583.0,88.4 L585.5,88.0 L587.4,86.5 L589.0,84.8 L590.0,86.9" fill="none" stroke="#ffd21f" stroke-width="1.8" stroke-linejoin="round" stroke-linecap="round"/>
<path d="M590.0,86.9 L590.8,88.6 L592.2,88.4 L592.8,79.0 L593.1,73.3 L593.1,73.3" fill="none" stroke="#2fbf2f" stroke-width="1.8" stroke-linejoin="round" stroke-linecap="round"/>
<rect x="117.45" y="14.3" width="2.6" height="491.7" fill="#4e4e4e"/>
<rect x="117.4" y="504.8" width="477.4" height="1.2" fill="#1a1a1a"/>
<rect x="119" y="110.65" width="8.5" height="1.9" fill="#111"/>
<rect x="119" y="307.25" width="8.5" height="1.9" fill="#111"/>
<rect x="236.85" y="496" width="1.3" height="9" fill="#1a1a1a"/>
<rect x="355.10" y="496" width="1.8" height="9" fill="#111"/>
<rect x="474.00" y="496" width="1.2" height="9" fill="#3a3a3a"/>
<rect x="592.3" y="495.8" width="2.5" height="10" fill="#606060"/>
<text x="71.8" y="116.2" font-family="Liberation Sans, sans-serif" font-size="16.8" fill="#181818" textLength="43" lengthAdjust="spacingAndGlyphs">200%</text>
<text x="71.5" y="313.2" font-family="Liberation Sans, sans-serif" font-size="16.8" fill="#181818" textLength="43" lengthAdjust="spacingAndGlyphs">100%</text>
<text x="91" y="509.6" font-family="Liberation Sans, sans-serif" font-size="16.8" fill="#181818" textLength="23.5" lengthAdjust="spacingAndGlyphs">0%</text>
<text x="228.3" y="520.5" font-family="Liberation Sans, sans-serif" font-size="16.8" fill="#181818" textLength="18" lengthAdjust="spacingAndGlyphs">50</text>
<text x="342.4" y="520.5" font-family="Liberation Sans, sans-serif" font-size="16.8" fill="#181818" textLength="28" lengthAdjust="spacingAndGlyphs">100</text>
<text x="461.2" y="520.5" font-family="Liberation Sans, sans-serif" font-size="16.8" fill="#181818" textLength="27.8" lengthAdjust="spacingAndGlyphs">150</text>
<text x="579.3" y="520.5" font-family="Liberation Sans, sans-serif" font-size="16.8" fill="#181818" textLength="28.5" lengthAdjust="spacingAndGlyphs">200</text>
<text x="289.3" y="540" font-family="Liberation Sans, sans-serif" font-size="16.8" fill="#181818" textLength="134" lengthAdjust="spacingAndGlyphs">Millions of frames</text>
<text transform="translate(65,355.5) rotate(-90)" font-family="Liberation Sans, sans-serif" font-size="16.8" fill="#181818" textLength="191" lengthAdjust="spacingAndGlyphs">Median normalized score</text>
<text x="164.9" y="38.30" font-family="Liberation Sans, sans-serif" font-size="15.8" fill="#181818" textLength="34.3" lengthAdjust="spacingAndGlyphs">DQN</text>
<text x="164.9" y="59.30" font-family="Liberation Sans, sans-serif" font-size="15.8" fill="#181818" textLength="75.1" lengthAdjust="spacingAndGlyphs">no double</text>
<text x="164.9" y="80.30" font-family="Liberation Sans, sans-serif" font-size="15.8" fill="#181818" textLength="78.2" lengthAdjust="spacingAndGlyphs">no priority</text>
<text x="164.9" y="101.30" font-family="Liberation Sans, sans-serif" font-size="15.8" fill="#181818" textLength="80.3" lengthAdjust="spacingAndGlyphs">no dueling</text>
<text x="164.9" y="122.30" font-family="Liberation Sans, sans-serif" font-size="15.8" fill="#181818" textLength="100.8" lengthAdjust="spacingAndGlyphs">no multi-step</text>
<text x="164.9" y="143.30" font-family="Liberation Sans, sans-serif" font-size="15.8" fill="#181818" textLength="110.4" lengthAdjust="spacingAndGlyphs">no distribution</text>
<text x="164.9" y="164.30" font-family="Liberation Sans, sans-serif" font-size="15.8" fill="#181818" textLength="63.5" lengthAdjust="spacingAndGlyphs">no noisy</text>
<text x="164.9" y="185.30" font-family="Liberation Sans, sans-serif" font-size="15.8" fill="#181818" textLength="65.3" lengthAdjust="spacingAndGlyphs">Rainbow</text>
<rect x="130.5" y="30.8" width="22.6" height="6.2" fill="#d9d9d9"/>
<rect x="132.3" y="52.9" width="19.8" height="2.9" fill="#a55bea"/>
<rect x="132.3" y="73.7" width="19.8" height="2.9" fill="#4da6ff"/>
<rect x="132.3" y="94.7" width="19.8" height="2.9" fill="#5fd35f"/>
<rect x="132.3" y="115.5" width="19.8" height="2.9" fill="#ffd42a"/>
<rect x="132.3" y="136.5" width="19.8" height="2.9" fill="#ff9933"/>
<rect x="132.3" y="158.0" width="19.8" height="2.9" fill="#c45050"/>
<rect x="131.9" y="175.9" width="20.0" height="4.6" fill="#000" rx="0.4"/>
<rect x="132.9" y="177.05" width="18.0" height="2.3" fill="url(#rb)"/>
</svg>
<div class="cap"><div class="ln">Figure 3: <b>Median human-normalized performance</b> across</div><div class="ln">57 Atari games, as a function of time. We compare our in-</div><div class="ln">tegrated agent (rainbow-colored) to DQN (gray) and to six</div><div class="ln">different ablations (dashed lines). Curves are smoothed with</div><div class="ln last">a moving average over 5 points.</div></div>
</body></html>
